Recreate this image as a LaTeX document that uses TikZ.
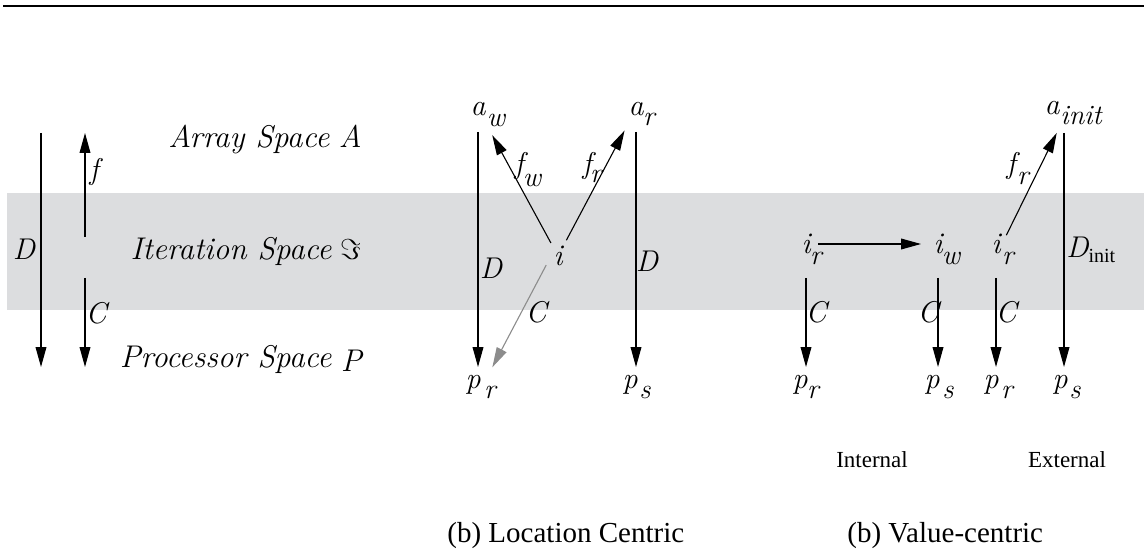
\documentclass[tikz,border=0pt]{standalone}
\usepackage{fontspec}
\setmainfont{Liberation Serif}
\newcommand\labelfont{\fontfamily{lmr}\fontshape{it}\selectfont}
\usetikzlibrary{arrows.meta,calc}
\definecolor{cBand}{RGB}{220,221,223}
\definecolor{cArrGray}{RGB}{140,140,140}
\tikzset{
  arr/.style={-{Triangle[length=10pt,width=5.4pt]},line width=0.55pt,color=black},
  grayarr/.style={arr,color=cArrGray},
  lbl/.style={inner sep=0pt,font=\labelfont\fontsize{15}{18}\selectfont},
  sublbl/.style={inner sep=0pt,font=\labelfont\fontsize{14}{17}\selectfont},
  spacetxt/.style={inner sep=0pt,anchor=base east,
                   font=\labelfont\fontsize{15.7}{19}\selectfont},
  captxt/.style={inner sep=0pt,anchor=base west,font=\fontsize{14.5}{17}\selectfont},
  kindtxt/.style={inner sep=0pt,anchor=base,font=\fontsize{11.5}{14}\selectfont}
}
\begin{document}
\begin{tikzpicture}[x=0.5pt,y=-0.5pt]
  \useasboundingbox (0,0) rectangle (1144,550);
  % top rule and iteration band
  \draw[line width=1pt] (3,6.5) -- (1144,6.5);
  \fill[cBand] (7,193) rectangle (1144,310);

  % legend on the left
  \coordinate (dtop) at (41,133);
  \coordinate (dbot) at (41,367);
  \coordinate (ftail) at (85,237);
  \coordinate (fhead) at (85,133);
  \coordinate (ctail) at (85,278);
  \coordinate (chead) at (85,367);
  \draw[arr] (dtop) -- (dbot);
  \draw[arr] (ftail) -- (fhead);
  \draw[arr] (ctail) -- (chead);
  \node[lbl] (dlab) at (24,249) {D};
  \node[lbl] (flab) at (94,172) {f};
  \node[lbl] (clab) at (96,313) {C};
  \node[spacetxt] (arrsp) at (362,148) {Array Space\hspace{0.3em}A};
  \node[spacetxt] (itsp) at (362,260) {Iteration Space\hspace{0.3em}$\Im$};
  \node[spacetxt] (prsp) at (362,367) {Processor Space\hspace{0.3em}\raisebox{-2pt}{P}};

  % location centric
  \node[lbl] (aw) at (478,109) {a};
  \node[sublbl] (aws) at (496,120) {w};
  \node[lbl] (ar) at (636,109) {a};
  \node[sublbl] (ars) at (649,119) {r};
  \node[lbl] (ic) at (558,256) {i};
  \node[lbl] (pr) at (473,385) {p};
  \node[sublbl] (prs) at (490,392) {r};
  \node[lbl] (ps) at (630,385) {p};
  \node[sublbl] (pss) at (645,392) {s};
  \draw[arr,shorten <=11.5pt,shorten >=9pt] (aw.center) -- (aw.center |- pr.center);
  \draw[arr,shorten <=11.5pt,shorten >=9pt] (ar.center) -- (ar.center |- ps.center);
  \draw[arr,shorten <=7.4pt,shorten >=14.9pt] (ic.center) -- (aw.center);
  \draw[arr,shorten <=8.9pt,shorten >=12.2pt] (ic.center) -- (ar.center);
  \draw[grayarr,shorten <=5.1pt,shorten >=10pt]
    ([xshift=-3.5pt]ic.center) -- ([xshift=5pt]pr.center);
  \node[lbl] (dwlab) at (491,268) {D};
  \node[lbl] (drlab) at (647,261) {D};
  \node[lbl] (fwlab) at (519,166) {f};
  \node[sublbl] (fwsub) at (532,180) {w};
  \node[lbl] (frlab) at (587,166) {f};
  \node[sublbl] (frsub) at (596,176) {r};
  \node[lbl] (cglab) at (536,312) {C};

  % value centric
  \node[lbl] (iri) at (806,244) {i};
  \node[sublbl] (iris) at (816,258) {r};
  \node[lbl] (iw) at (938,244) {i};
  \node[sublbl] (iws) at (951,258) {w};
  \node[lbl] (irii) at (996,244) {i};
  \node[sublbl] (iriis) at (1008,258) {r};
  \node[lbl] (ainit) at (1052,108) {a};
  \node[sublbl] (ainits) at (1081,116) {init};
  \node[lbl] (pri) at (800,385) {p};
  \node[sublbl] (pris) at (813,392) {r};
  \node[lbl] (psi) at (932,385) {p};
  \node[sublbl] (psis) at (948,392) {s};
  \node[lbl] (prii) at (991,385) {p};
  \node[sublbl] (priis) at (1007,392) {r};
  \node[lbl] (psii) at (1060,385) {p};
  \node[sublbl] (psiis) at (1075,392) {s};
  \draw[arr,shorten <=6pt,shorten >=8.5pt] (iri.center) -- (iw.center);
  \draw[arr,shorten <=17pt,shorten >=9pt] (iri.center) -- (iri.center |- pri.center);
  \draw[arr,shorten <=17pt,shorten >=9pt] (iw.center) -- (iw.center |- psi.center);
  \draw[arr,shorten <=17pt,shorten >=9pt] (irii.center) -- (irii.center |- prii.center);
  \draw[arr,shorten <=4.9pt,shorten >=13.9pt]
    ([xshift=3pt]irii.center) -- ([xshift=8.5pt]ainit.center);
  \draw[arr,shorten <=12.5pt,shorten >=9pt]
    ([xshift=6pt]ainit.center) -- ([xshift=6pt]ainit.center |- psii.center);
  \node[lbl] (cilab) at (816,312) {C};
  \node[lbl] (cwlab) at (928,312) {C};
  \node[lbl] (ciilab) at (1006,312) {C};
  \node[lbl] (frilab) at (1011,166) {f};
  \node[sublbl] (frisub) at (1023,178) {r};
  \node[lbl,anchor=base west] (dinit) at (1066,258)
    {D\raisebox{-2.5pt}{\rmfamily\upshape\fontsize{10}{12}\selectfont init}};
  \node[kindtxt] (internal) at (872,467) {Internal};
  \node[kindtxt] (external) at (1067,467) {External};

  % captions
  \node[captxt] (loccap) at (447,542) {(b) Location Centric};
  \node[captxt] (valcap) at (847,542) {(b) Value-centric};
\end{tikzpicture}
\end{document}
